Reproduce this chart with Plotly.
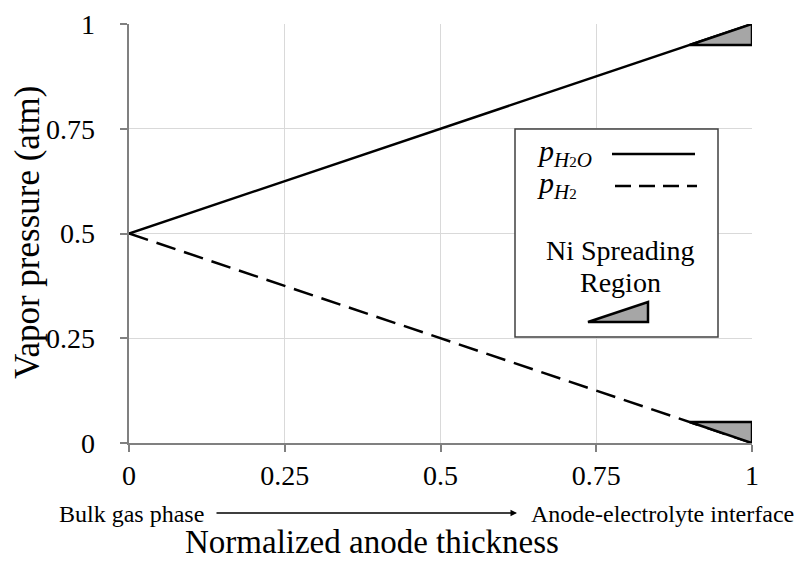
import plotly.graph_objects as go

# ---- data ----
thickness = [0, 1]
p_h2o = [0.5, 1.0]
p_h2 = [0.5, 0.0]
tri_top_x = [0.9, 1.0, 1.0, 0.9]
tri_top_y = [0.95, 1.0, 0.95, 0.95]
tri_bot_x = [0.9, 1.0, 1.0, 0.9]
tri_bot_y = [0.05, 0.0, 0.05, 0.05]
tick_vals = [0, 0.25, 0.5, 0.75, 1]
tick_text = ["0", "0.25", "0.5", "0.75", "1"]

W, H = 799, 562
L, R, T, B = 129, 47, 24, 119
PW, PH = W - L - R, H - T - B


def px(x):
    return (x - L) / PW


def py(y):
    return (H - B - y) / PH


FONT = "Liberation Serif, Times New Roman, serif"
fig = go.Figure()

fig.add_trace(go.Scatter(x=thickness, y=p_h2o, mode="lines",
                         line=dict(color="black", width=2.5),
                         cliponaxis=False, showlegend=False))
fig.add_trace(go.Scatter(x=thickness, y=p_h2, mode="lines",
                         line=dict(color="black", width=2.5, dash="20px,9px"),
                         cliponaxis=False, showlegend=False))
for tx, ty in [(tri_top_x, tri_top_y), (tri_bot_x, tri_bot_y)]:
    fig.add_trace(go.Scatter(x=tx, y=ty, mode="lines", fill="toself",
                             fillcolor="#a6a6a6",
                             line=dict(color="black", width=2.5),
                             cliponaxis=False, showlegend=False))

axis_common = dict(range=[0, 1], tickvals=tick_vals,
                   showgrid=True, gridcolor="#d9d9d9", gridwidth=1,
                   showline=True, linecolor="#808080", linewidth=1.5,
                   ticks="outside", ticklen=7, tickcolor="#808080",
                   tickwidth=1.5, zeroline=False, automargin=False,
                   tickfont=dict(family=FONT, size=28, color="black"))
fig.update_xaxes(**axis_common, ticktext=tick_text)
fig.update_yaxes(**axis_common, ticktext=[t + "\u00a0\u00a0\u2009" for t in tick_text])

shapes = []
# legend box
shapes.append(dict(type="rect", xref="paper", yref="paper",
                   x0=px(515), x1=px(718), y0=py(337), y1=py(129),
                   line=dict(color="#404040", width=1.5), fillcolor="white",
                   layer="above"))
shapes.append(dict(type="line", xref="paper", yref="paper",
                   x0=px(612), x1=px(695), y0=py(154), y1=py(154),
                   line=dict(color="black", width=2.5), layer="above"))
shapes.append(dict(type="line", xref="paper", yref="paper",
                   x0=px(615), x1=px(697), y0=py(186), y1=py(186),
                   line=dict(color="black", width=2.5, dash="16px,8px"),
                   layer="above"))
shapes.append(dict(type="path", xref="paper", yref="paper",
                   path=f"M {px(588)} {py(322)} L {px(648)} {py(302)} L {px(648)} {py(322)} Z",
                   line=dict(color="black", width=2.5), fillcolor="#a6a6a6",
                   layer="above"))

SUB = "<span style='font-size:21px'>"
SUB2 = "<span style='font-size:15px'>"
ann = []
ann.append(dict(xref="paper", yref="paper", x=px(535), y=py(153),
                xanchor="left", yanchor="middle", showarrow=False,
                text=f"<i>p</i><sub>{SUB}<i>H</i></span>{SUB2}2</span>{SUB}<i>O</i></span></sub>",
                font=dict(family=FONT, size=30, color="black")))
ann.append(dict(xref="paper", yref="paper", x=px(535), y=py(185),
                xanchor="left", yanchor="middle", showarrow=False,
                text=f"<i>p</i><sub>{SUB}<i>H</i></span>{SUB2}2</span></sub>",
                font=dict(family=FONT, size=30, color="black")))
ann.append(dict(xref="paper", yref="paper", x=px(620), y=py(250),
                xanchor="center", yanchor="middle", showarrow=False,
                text="Ni Spreading",
                font=dict(family=FONT, size=28, color="black")))
ann.append(dict(xref="paper", yref="paper", x=px(620), y=py(282),
                xanchor="center", yanchor="middle", showarrow=False,
                text="Region",
                font=dict(family=FONT, size=28, color="black")))
ann.append(dict(xref="paper", yref="paper", x=px(57), y=py(514),
                xanchor="left", yanchor="middle", showarrow=False,
                text="Bulk gas phase",
                font=dict(family=FONT, size=24, color="black")))
ann.append(dict(xref="paper", yref="paper", x=px(796), y=py(514),
                xanchor="right", yanchor="middle", showarrow=False,
                text="Anode-electrolyte interface",
                font=dict(family=FONT, size=24, color="black")))
ann.append(dict(xref="paper", yref="paper", x=px(517), y=py(513),
                ax=-(517 - 215), ay=0, axref="pixel", ayref="pixel",
                text="", showarrow=True, arrowhead=2, arrowsize=1,
                arrowwidth=1.3, arrowcolor="black"))
ann.append(dict(xref="paper", yref="paper", x=px(372), y=py(542),
                xanchor="center", yanchor="middle", showarrow=False,
                text="Normalized anode thickness",
                font=dict(family=FONT, size=33, color="black")))
ann.append(dict(xref="paper", yref="paper", x=px(27), y=py(232),
                xanchor="center", yanchor="middle", showarrow=False,
                textangle=-90, text="Vapor pressure (atm)",
                font=dict(family=FONT, size=35, color="black")))

fig.update_layout(width=W, height=H, margin=dict(l=L, r=R, t=T, b=B),
                  paper_bgcolor="white", plot_bgcolor="white",
                  shapes=shapes, annotations=ann, showlegend=False)

fig.write_html("out.html")
